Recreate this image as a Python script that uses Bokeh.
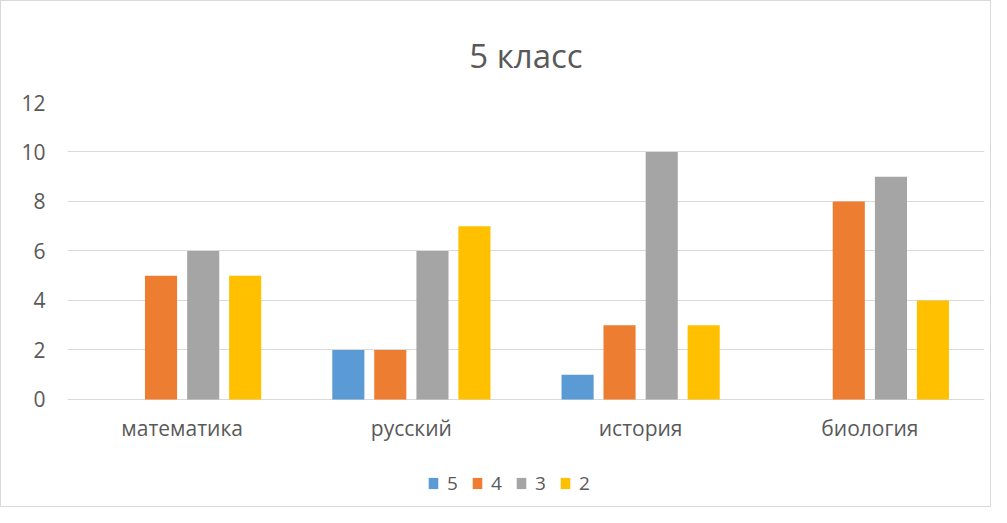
from bokeh.plotting import figure
from bokeh.models import ColumnDataSource, FactorRange, Range1d, Legend, LegendItem, FixedTicker
from bokeh.transform import dodge
from bokeh.core.properties import value
from bokeh.embed import file_html
from bokeh.resources import INLINE

subjects = ["математика", "русский", "история", "биология"]
grade_5 = [0, 2, 1, 0]
grade_4 = [5, 2, 3, 8]
grade_3 = [6, 6, 10, 9]
grade_2 = [5, 7, 3, 4]
series_names = ["5", "4", "3", "2"]
colors = ["#5B9BD5", "#ED7D31", "#A5A5A5", "#FFC000"]
y_ticks = [0, 2, 4, 6, 8, 10, 12]
title_text = "5 класс"

FONT = "Open Sans"
TXT = "#595959"

src = ColumnDataSource(data=dict(subject=subjects, s5=grade_5, s4=grade_4, s3=grade_3, s2=grade_2))

# frame runs from fig y=101 (value 12) to the bottom (value 0 sits at fig y=398)
p = figure(x_range=FactorRange(factors=subjects, range_padding=0),
           y_range=Range1d(-4.33, 12),
           width=991, height=507, output_backend="svg", toolbar_location=None,
           min_border_left=66, min_border_right=8, min_border_top=101, min_border_bottom=2,
           styles={"border": "1px solid #D9D9D9"})
p.outline_line_color = None

p.title.text = title_text
p.title.align = "center"
p.title.offset = -20
p.title.text_font = FONT
p.title.text_font_size = "33px"
p.title.text_font_style = "normal"
p.title.text_color = TXT
p.title.standoff = 50

offsets = [-0.275, -0.092, 0.092, 0.275]
renderers = []
for key, off, col in zip(["s5", "s4", "s3", "s2"], offsets, colors):
    r = p.vbar(x=dodge("subject", off, range=p.x_range), top=key, width=0.14, source=src,
               fill_color=col, line_color=None)
    renderers.append(r)

# category labels under the zero line
p.text(x=subjects, y=-1.17, text=subjects, text_align="center", text_baseline="middle",
       text_font=value(FONT), text_font_size="21px", text_color=TXT)

p.xaxis.visible = False
p.xgrid.grid_line_color = None
p.ygrid.grid_line_color = "#D9D9D9"
p.ygrid.grid_line_width = 1
p.yaxis.ticker = FixedTicker(ticks=y_ticks)

ax = p.yaxis[0]
ax.axis_line_color = None
ax.major_tick_line_color = None
ax.minor_tick_line_color = None
ax.major_tick_out = 0
ax.major_tick_in = 0
ax.major_label_text_color = TXT
ax.major_label_text_font = FONT
ax.major_label_text_font_size = "21px"
ax.major_label_standoff = 22

legend = Legend(items=[LegendItem(label=n, renderers=[r]) for n, r in zip(series_names, renderers)],
                orientation="horizontal", location=(360, 10),
                glyph_width=12, glyph_height=14, label_standoff=8, spacing=4,
                padding=0, margin=0, border_line_color=None, background_fill_alpha=0,
                label_text_font=FONT, label_text_font_size="19px", label_text_color=TXT,
                label_height=14)
p.add_layout(legend, "center")

open("out.html", "w").write(file_html(p, INLINE))
